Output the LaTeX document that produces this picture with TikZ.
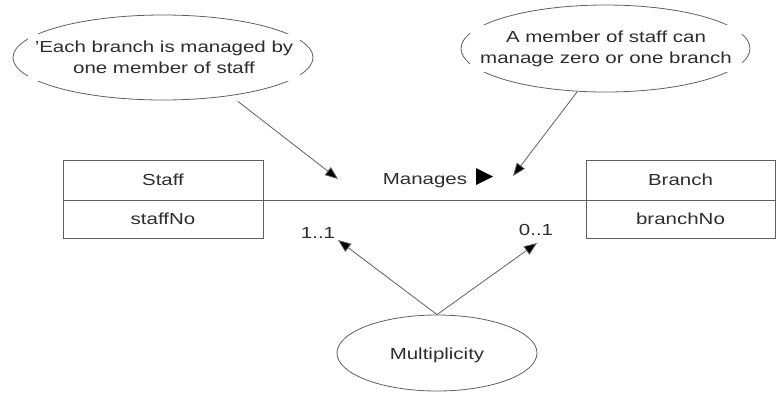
\documentclass[tikz,border=0pt]{standalone}
\usepackage{fontspec}
\setmainfont[FakeStretch=1.28]{Liberation Sans}
\usetikzlibrary{shapes.geometric,arrows.meta}
\definecolor{linec}{RGB}{95,95,95}
\definecolor{textc}{RGB}{45,45,45}
\tikzset{
  base/.style={font=\fontsize{16}{21}\selectfont, text=textc},
  bubble/.style={ellipse, draw=linec, line width=0.8pt, inner sep=0pt},
  bubbletext/.style={base, align=center, fill=white, inner sep=0pt, minimum width=272pt, minimum height=47pt},
  cell/.style={base, draw=linec, line width=0.8pt, inner sep=0pt, minimum height=39pt},
  label/.style={base, inner sep=1pt},
  pointer/.style={draw=linec, line width=0.8pt, -{Triangle[length=13pt,width=10pt,fill=black]}},
}
\begin{document}
\begin{tikzpicture}[x=1pt,y=-1pt]
\useasboundingbox (0,0) rectangle (776,392);
% note ellipses
\node[bubble, minimum width=300pt, minimum height=85pt] (e1) at (163,57.5) {};
\node[bubbletext] (t1) at (164,57.5) {'Each branch is managed by\\one member of staff};
\node[bubble, minimum width=289pt, minimum height=87pt] (e2) at (605.5,48.5) {};
\node[bubbletext] (t2) at (606,48.5) {A member of staff can\\manage zero or one branch};
\node[bubble, minimum width=200pt, minimum height=76pt] (e3) at (437,353) {};
\node[label] (t3) at (437,355) {Multiplicity};
% classes
\node[cell, minimum width=200pt, minimum height=40pt] (staff) at (163,180) {Staff};
\node[cell, minimum width=200pt, minimum height=38pt] (staffno) at (163,219) {staffNo};
\node[cell, minimum width=189pt, minimum height=40pt] (branch) at (680.5,180) {Branch};
\node[cell, minimum width=189pt, minimum height=38pt] (branchno) at (680.5,219) {branchNo};
% association
\draw[draw=linec, line width=0.8pt] (staff.south east) -- (branch.south west);
\node[label] (manages) at (425,181) {Manages};
\fill[black] (476,168) -- (493,176.5) -- (476,185) -- cycle;
\node[label] (m1) at (318,233) {1..1};
\node[label] (m2) at (536,230) {0..1};
% pointers
\coordinate (p1) at (338,179);
\coordinate (p2) at (513,176);
\coordinate (p3) at (338,240);
\coordinate (p4) at (537,243);
\draw[pointer] (238,101.5) -- (p1);
\draw[pointer] (577,92) -- (p2);
\draw[pointer] (e3.north) -- (p3);
\draw[pointer] (e3.north) -- (p4);
\end{tikzpicture}
\end{document}
